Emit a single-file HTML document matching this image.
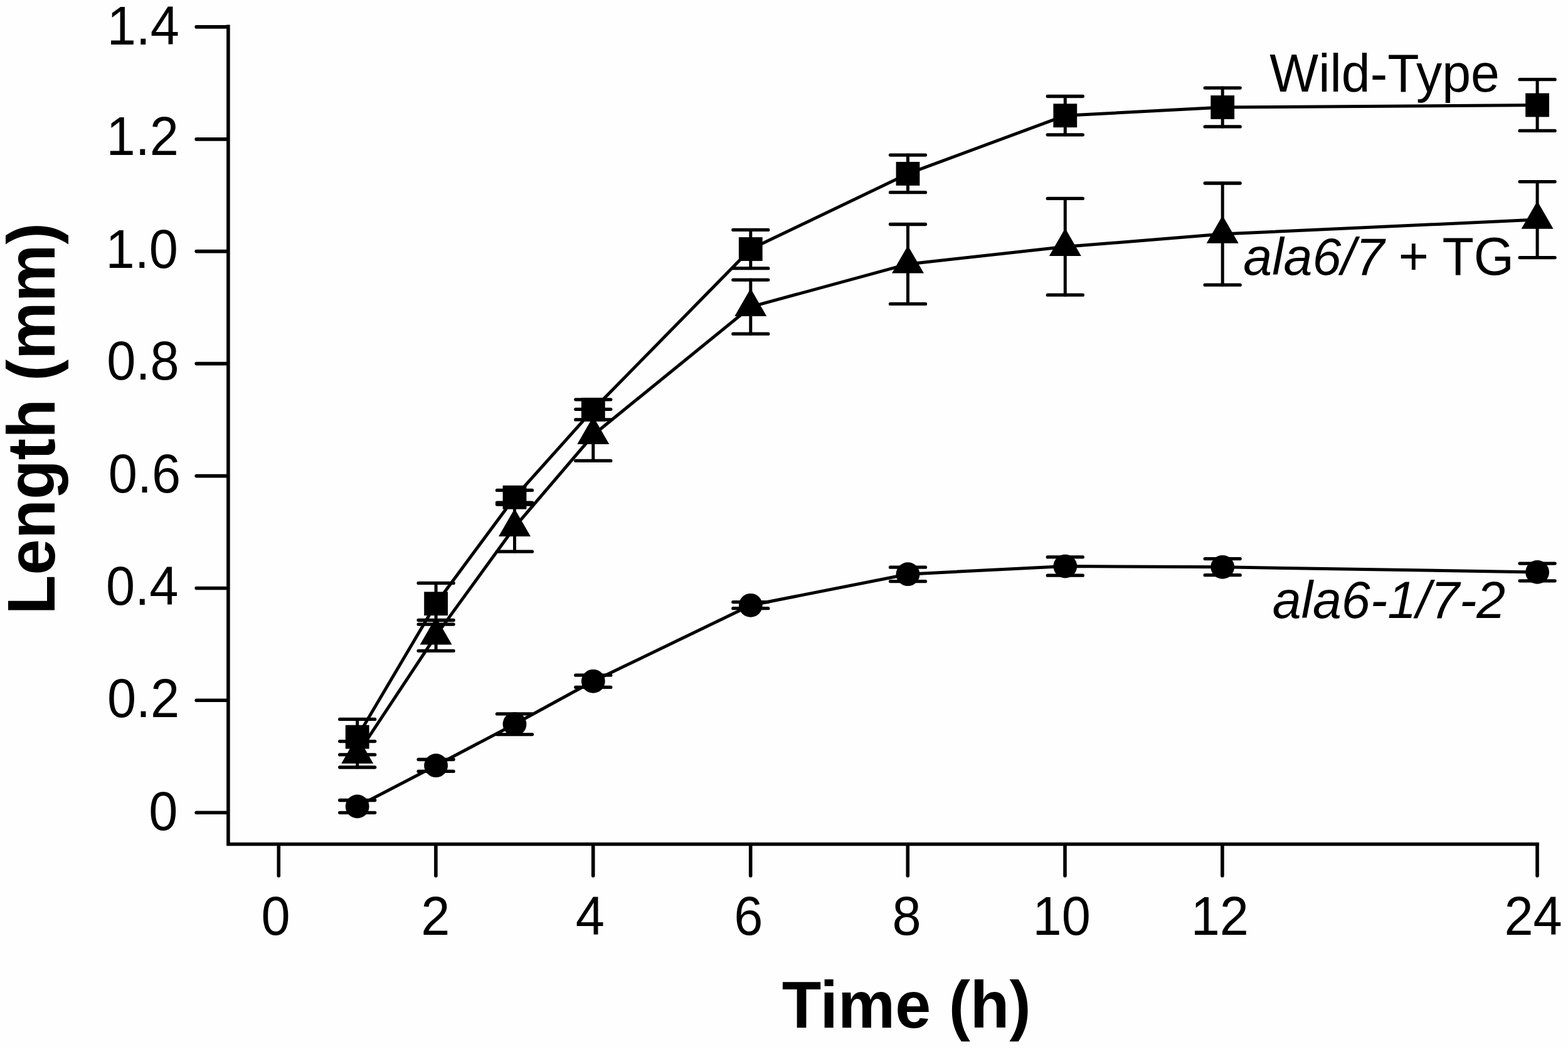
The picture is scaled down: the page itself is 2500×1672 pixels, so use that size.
<!DOCTYPE html>
<html><head><meta charset="utf-8"><title>Length vs Time</title>
<style>html,body{margin:0;padding:0;background:#fefefe;}body{width:2500px;height:1672px;overflow:hidden;}svg{display:block;}text{font-family:"Liberation Sans",Arial,Helvetica,sans-serif;fill:#000;}</style>
</head><body>
<svg width="2500" height="1672" viewBox="0 0 2500 1672">
<rect width="2500" height="1672" fill="#fefefe"/>
<path d="M363.9,39.5 V1345.5 H2453.9" stroke="#000" fill="none" stroke-width="5.6" stroke-linejoin="miter" stroke-linecap="butt"/>
<g stroke="#000" fill="none" stroke-width="5.6" stroke-linecap="round">
<path d="M313.2,42.9 H363"/>
<path d="M313.2,221.9 H363"/>
<path d="M313.2,400.6 H363"/>
<path d="M313.2,579.6 H363"/>
<path d="M313.2,758.6 H363"/>
<path d="M313.2,937.5 H363"/>
<path d="M313.2,1116.2 H363"/>
<path d="M313.2,1295.3 H363"/>
<path d="M444.3,1346 V1395.8"/>
<path d="M694.9,1346 V1395.8"/>
<path d="M945.7,1346 V1395.8"/>
<path d="M1196.7,1346 V1395.8"/>
<path d="M1447.3,1346 V1395.8"/>
<path d="M1698,1346 V1395.8"/>
<path d="M1948.9,1346 V1395.8"/>
<path d="M2451,1346 V1395.8"/>
</g>
<text transform="translate(170.65,70.7) scale(1,1.04)" font-size="83.0">1.4</text>
<text transform="translate(169.54,247.2) scale(1,1.04)" font-size="83.0">1.2</text>
<text transform="translate(168.61,427.1) scale(1,1.04)" font-size="83.0">1.0</text>
<text transform="translate(170.23,605.4) scale(1,1.04)" font-size="83.0">0.8</text>
<text transform="translate(172.87,785) scale(1,1.04)" font-size="83.0">0.6</text>
<text transform="translate(169.05,964.2) scale(1,1.04)" font-size="83.0">0.4</text>
<text transform="translate(170.89,1143.1) scale(1,1.04)" font-size="83.0">0.2</text>
<text transform="translate(237.18,1322.9) scale(1,1.04)" font-size="83.0">0</text>
<text transform="translate(416.48,1490.4) scale(1,1.04)" font-size="83.0">0</text>
<text transform="translate(671.21,1490.4) scale(1,1.04)" font-size="83.0">2</text>
<text transform="translate(917.67,1490.4) scale(1,1.04)" font-size="83.0">4</text>
<text transform="translate(1170.19,1490.4) scale(1,1.04)" font-size="83.0">6</text>
<text transform="translate(1422.45,1490.4) scale(1,1.04)" font-size="83.0">8</text>
<text transform="translate(1646.52,1490.4) scale(1,1.04)" font-size="83.0">10</text>
<text transform="translate(1898.65,1490.4) scale(1,1.04)" font-size="83.0">12</text>
<text transform="translate(2398.41,1490.4) scale(1,1.04)" font-size="83.0">24</text>
<text transform="translate(1246.85,1637.7) scale(1,1.035)" font-size="102.5" font-weight="bold">Time (h)</text>
<text transform="translate(87,979.4) rotate(-90) scale(1,1.04)" font-size="103.1" font-weight="bold">Length (mm)</text>
<g stroke="#000" fill="none" stroke-width="5.0" stroke-linejoin="round">
<polyline points="569.7,1174.6 695.1,962.2 820.5,792.7 945.8,652.8 1196.8,397 1447.5,276.9 1698.3,184.2 1949.2,171 2451.1,167.5"/>
<polyline points="569.7,1202.3 695.1,1012.9 820.5,840.2 945.8,693.3 1196.8,489.2 1447.5,420.9 1698.3,393.3 1949.2,373.1 2451.1,350.1"/>
<polyline points="569.7,1285.4 695.1,1220.2 820.5,1154.2 945.8,1085.8 1196.8,964.8 1447.5,915.2 1698.3,902.6 1949.2,903.8 2451.1,911.9"/>
</g>
<g stroke="#000" fill="none" stroke-linecap="round">
<path stroke-width="5.0" d="M569.7,1146.4 V1202.9"/>
<path stroke-width="5.3" d="M541.7,1146.4 H597.7 M541.7,1202.9 H597.7"/>
<path stroke-width="5.0" d="M695.1,929.4 V995.1"/>
<path stroke-width="5.3" d="M667.1,929.4 H723.1 M667.1,995.1 H723.1"/>
<path stroke-width="5.0" d="M820.5,781.4 V804"/>
<path stroke-width="5.3" d="M792.5,781.4 H848.5 M792.5,804 H848.5"/>
<path stroke-width="5.0" d="M945.8,636.8 V668.9"/>
<path stroke-width="5.3" d="M917.8,636.8 H973.8 M917.8,668.9 H973.8"/>
<path stroke-width="5.0" d="M1196.8,366.4 V427.7"/>
<path stroke-width="5.3" d="M1168.8,366.4 H1224.8 M1168.8,427.7 H1224.8"/>
<path stroke-width="5.0" d="M1447.5,247.1 V306.7"/>
<path stroke-width="5.3" d="M1419.5,247.1 H1475.5 M1419.5,306.7 H1475.5"/>
<path stroke-width="5.0" d="M1698.3,153.5 V214.8"/>
<path stroke-width="5.3" d="M1670.3,153.5 H1726.3 M1670.3,214.8 H1726.3"/>
<path stroke-width="5.0" d="M1949.2,140.1 V201.9"/>
<path stroke-width="5.3" d="M1921.2,140.1 H1977.2 M1921.2,201.9 H1977.2"/>
<path stroke-width="5.0" d="M2451.1,126.7 V208.4"/>
<path stroke-width="5.3" d="M2423.1,126.7 H2479.1 M2423.1,208.4 H2479.1"/>
<path stroke-width="5.0" d="M569.7,1181.6 V1223"/>
<path stroke-width="5.3" d="M541.7,1181.6 H597.7 M541.7,1223 H597.7"/>
<path stroke-width="5.0" d="M695.1,988.5 V1037.3"/>
<path stroke-width="5.3" d="M667.1,988.5 H723.1 M667.1,1037.3 H723.1"/>
<path stroke-width="5.0" d="M820.5,801.2 V879.2"/>
<path stroke-width="5.3" d="M792.5,801.2 H848.5 M792.5,879.2 H848.5"/>
<path stroke-width="5.0" d="M945.8,652.3 V734.4"/>
<path stroke-width="5.3" d="M917.8,652.3 H973.8 M917.8,734.4 H973.8"/>
<path stroke-width="5.0" d="M1196.8,446.1 V532.2"/>
<path stroke-width="5.3" d="M1168.8,446.1 H1224.8 M1168.8,532.2 H1224.8"/>
<path stroke-width="5.0" d="M1447.5,357.5 V484.4"/>
<path stroke-width="5.3" d="M1419.5,357.5 H1475.5 M1419.5,484.4 H1475.5"/>
<path stroke-width="5.0" d="M1698.3,316.4 V470.2"/>
<path stroke-width="5.3" d="M1670.3,316.4 H1726.3 M1670.3,470.2 H1726.3"/>
<path stroke-width="5.0" d="M1949.2,292 V454.2"/>
<path stroke-width="5.3" d="M1921.2,292 H1977.2 M1921.2,454.2 H1977.2"/>
<path stroke-width="5.0" d="M2451.1,289.6 V410.6"/>
<path stroke-width="5.3" d="M2423.1,289.6 H2479.1 M2423.1,410.6 H2479.1"/>
<path stroke-width="5.0" d="M569.7,1275.5 V1295.3"/>
<path stroke-width="5.3" d="M541.7,1275.5 H597.7 M541.7,1295.3 H597.7"/>
<path stroke-width="5.0" d="M695.1,1210.5 V1229.4"/>
<path stroke-width="5.3" d="M667.1,1210.5 H723.1 M667.1,1229.4 H723.1"/>
<path stroke-width="5.0" d="M820.5,1137.9 V1170.6"/>
<path stroke-width="5.3" d="M792.5,1137.9 H848.5 M792.5,1170.6 H848.5"/>
<path stroke-width="5.0" d="M945.8,1076.2 V1095.4"/>
<path stroke-width="5.3" d="M917.8,1076.2 H973.8 M917.8,1095.4 H973.8"/>
<path stroke-width="5.0" d="M1196.8,959.6 V969.7"/>
<path stroke-width="5.3" d="M1168.8,959.6 H1224.8 M1168.8,969.7 H1224.8"/>
<path stroke-width="5.0" d="M1447.5,904.2 V926.6"/>
<path stroke-width="5.3" d="M1419.5,904.2 H1475.5 M1419.5,926.6 H1475.5"/>
<path stroke-width="5.0" d="M1698.3,887.9 V917.2"/>
<path stroke-width="5.3" d="M1670.3,887.9 H1726.3 M1670.3,917.2 H1726.3"/>
<path stroke-width="5.0" d="M1949.2,890.6 V916.7"/>
<path stroke-width="5.3" d="M1921.2,890.6 H1977.2 M1921.2,916.7 H1977.2"/>
<path stroke-width="5.0" d="M2451.1,898.1 V925.8"/>
<path stroke-width="5.3" d="M2423.1,898.1 H2479.1 M2423.1,925.8 H2479.1"/>
</g>
<g fill="#000">
<rect x="550.8" y="1155.7" width="37.8" height="37.8"/>
<rect x="676.2" y="943.3" width="37.8" height="37.8"/>
<rect x="801.6" y="773.8" width="37.8" height="37.8"/>
<rect x="926.9" y="633.9" width="37.8" height="37.8"/>
<rect x="1177.9" y="378.1" width="37.8" height="37.8"/>
<rect x="1428.6" y="258" width="37.8" height="37.8"/>
<rect x="1679.4" y="165.3" width="37.8" height="37.8"/>
<rect x="1930.3" y="152.1" width="37.8" height="37.8"/>
<rect x="2432.2" y="148.6" width="37.8" height="37.8"/>
<path d="M569.7,1172.8 L595.2,1217 L544.2,1217 Z"/>
<path d="M695.1,983.4 L720.6,1027.6 L669.6,1027.6 Z"/>
<path d="M820.5,810.7 L846,854.9 L795,854.9 Z"/>
<path d="M945.8,663.8 L971.3,708 L920.3,708 Z"/>
<path d="M1196.8,459.7 L1222.3,503.9 L1171.3,503.9 Z"/>
<path d="M1447.5,391.4 L1473,435.6 L1422,435.6 Z"/>
<path d="M1698.3,363.8 L1723.8,408 L1672.8,408 Z"/>
<path d="M1949.2,343.6 L1974.7,387.8 L1923.7,387.8 Z"/>
<path d="M2451.1,320.6 L2476.6,364.8 L2425.6,364.8 Z"/>
<circle cx="569.7" cy="1285.4" r="18.9"/>
<circle cx="695.1" cy="1220.2" r="18.9"/>
<circle cx="820.5" cy="1154.2" r="18.9"/>
<circle cx="945.8" cy="1085.8" r="18.9"/>
<circle cx="1196.8" cy="964.8" r="18.9"/>
<circle cx="1447.5" cy="915.2" r="18.9"/>
<circle cx="1698.3" cy="902.6" r="18.9"/>
<circle cx="1949.2" cy="903.8" r="18.9"/>
<circle cx="2451.1" cy="911.9" r="18.9"/>
</g>
<text transform="translate(2024.34,146.1) scale(1,1.035)" font-size="82.5">Wild-Type</text>
<text x="1982.35" y="437.8" font-size="82.5" font-style="italic">ala6/7</text>
<text transform="translate(2229.87,437.8) scale(1,1.03)" font-size="82.5">+ TG</text>
<text x="2028.75" y="985.2" font-size="82.5" font-style="italic">ala6-1/7-2</text>
</svg>
</body></html>
